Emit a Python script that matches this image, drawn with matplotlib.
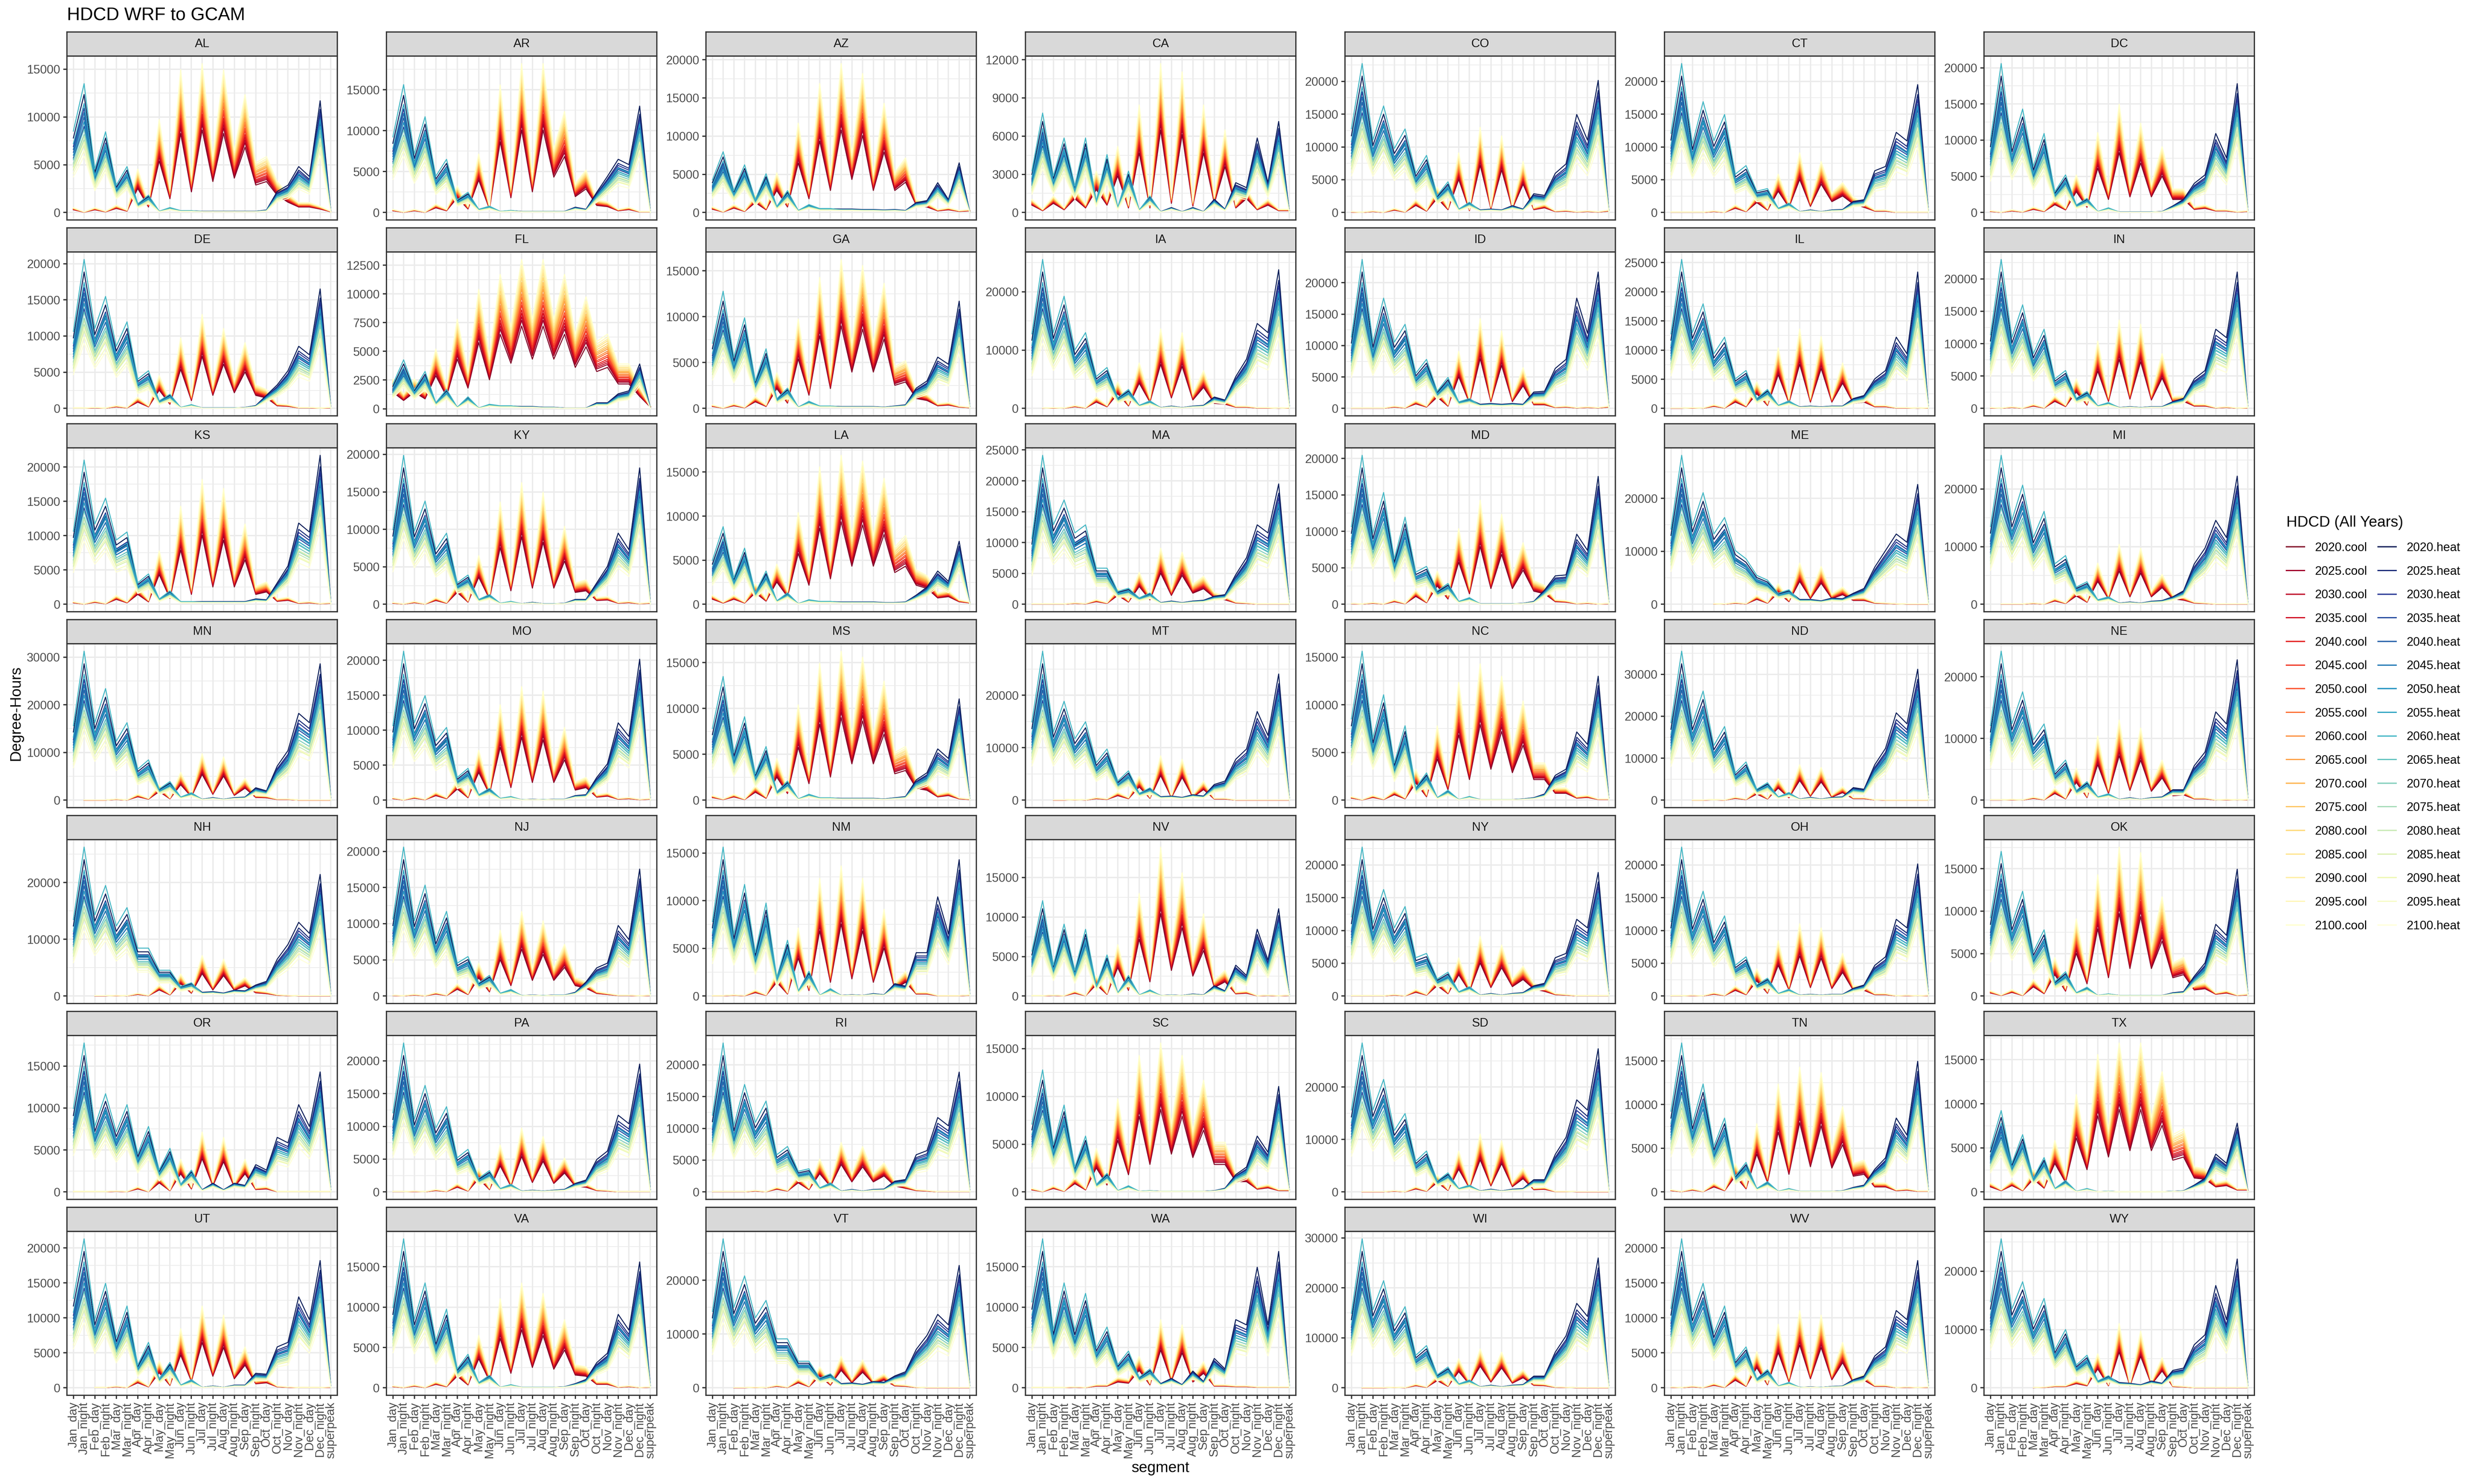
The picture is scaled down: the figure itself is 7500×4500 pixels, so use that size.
import numpy as np
import matplotlib
matplotlib.use("Agg")
import matplotlib.pyplot as plt
from matplotlib.colors import LinearSegmentedColormap
from matplotlib.lines import Line2D
from matplotlib.ticker import MultipleLocator, FormatStrFormatter

plt.rcParams['font.family'] = ['Liberation Sans', 'DejaVu Sans']

SEGMENTS = ["Jan_day", "Jan_night", "Feb_day", "Feb_night", "Mar_day", "Mar_night",
            "Apr_day", "Apr_night", "May_day", "May_night", "Jun_day", "Jun_night",
            "Jul_day", "Jul_night", "Aug_day", "Aug_night", "Sep_day", "Sep_night",
            "Oct_day", "Oct_night", "Nov_day", "Nov_night", "Dec_day", "Dec_night",
            "superpeak"]
YEARS = [2020, 2025, 2030, 2035, 2040, 2045, 2050, 2055, 2060,
         2065, 2070, 2075, 2080, 2085, 2090, 2095, 2100]

STATES = ["AL", "AR", "AZ", "CA", "CO", "CT", "DC",
          "DE", "FL", "GA", "IA", "ID", "IL", "IN",
          "KS", "KY", "LA", "MA", "MD", "ME", "MI",
          "MN", "MO", "MS", "MT", "NC", "ND", "NE",
          "NH", "NJ", "NM", "NV", "NY", "OH", "OK",
          "OR", "PA", "RI", "SC", "SD", "TN", "TX",
          "UT", "VA", "VT", "WA", "WI", "WV", "WY"]
# y tick spacing read from each facet
Y_STEP = [5000, 5000, 5000, 3000, 5000, 5000, 5000,
          5000, 2500, 5000, 10000, 5000, 5000, 5000,
          5000, 5000, 5000, 5000, 5000, 10000, 10000,
          10000, 5000, 5000, 10000, 5000, 10000, 10000,
          10000, 5000, 5000, 5000, 5000, 5000, 5000,
          5000, 5000, 5000, 5000, 10000, 5000, 5000,
          5000, 5000, 10000, 5000, 10000, 5000, 10000]

COOL_YEAR = [0.72, 0.77, 0.80, 0.83, 0.86, 0.90, 0.93, 0.97, 1.00,
             1.04, 1.07, 1.10, 1.14, 1.18, 1.21, 1.25, 1.30]
HEAT_JAN = [1.30, 1.10, 1.15, 0.95, 1.05, 1.10, 1.00, 1.20, 1.42,
            0.92, 0.86, 0.80, 0.84, 0.74, 0.78, 0.68, 0.62]
HEAT_EARLY = [1.20, 1.08, 1.12, 1.00, 1.05, 1.00, 1.06, 1.10, 1.30,
              0.94, 0.90, 0.84, 0.87, 0.77, 0.80, 0.70, 0.65]
HEAT_LATE = [1.30, 1.20, 1.15, 1.05, 1.10, 1.00, 1.08, 1.00, 0.95,
             0.96, 0.90, 0.84, 0.80, 0.86, 0.74, 0.76, 0.66]

COOL_PAL = ['#800026', '#bd0026', '#e31a1c', '#fc4e2a', '#fd8d3c',
            '#feb24c', '#fed976', '#ffeda0', '#ffffcc']
HEAT_PAL = ['#081d58', '#253494', '#225ea8', '#1d91c0', '#41b6c4',
            '#7fcdbb', '#c7e9b4', '#edf8b1', '#ffffd9']

# degree-hours (thousands), mid-century profile per state
AL_COOL = [0.4, 0.05, 0.4, 0.1, 0.6, 0.2, 3.5, 0.8, 7.5, 2, 11.5, 3, 12, 4.5, 11.5, 5, 9.5, 4, 4.5, 2.5, 1.5, 0.8, 0.8, 0.5, 0.1]
AL_HEAT = [6, 9.5, 3.5, 6.5, 2.2, 3.7, 0.7, 1.4, 0.1, 0.4, 0.15, 0.15, 0.1, 0.1, 0.1, 0.1, 0.1, 0.1, 0.2, 1.7, 2.2, 3.7, 2.9, 9, 0]
AR_COOL = [0.3, 0.05, 0.3, 0.05, 0.8, 0.3, 2.5, 0.6, 5.5, 0.6, 12, 2.5, 14, 3.5, 14, 6, 9.5, 2.7, 4, 1.2, 1, 0.3, 0.5, 0.1, 0.1]
AR_HEAT = [6.5, 11, 5.5, 9, 3.4, 5, 1.2, 1.9, 0.3, 0.6, 0.1, 0.2, 0.1, 0.1, 0.1, 0.1, 0.1, 0.5, 0.3, 1.9, 3.4, 5, 4.5, 10, 0]
AZ_COOL = [0.6, 0.1, 0.8, 0.2, 1.8, 0.5, 4, 1, 9, 2.5, 13, 4, 15, 6, 14, 4, 11, 4, 5.5, 1.3, 1, 0.3, 0.5, 0.2, 0.3]
AZ_HEAT = [3, 5.6, 2.2, 4.8, 1.3, 3.9, 0.6, 2.2, 0.2, 0.8, 0.4, 0.4, 0.35, 0.35, 0.3, 0.3, 0.25, 0.3, 0.2, 1, 1.2, 3, 1.3, 5, 0]
CA_COOL = [0.8, 0.2, 1.0, 0.3, 1.5, 0.5, 2.5, 0.8, 4, 0.5, 6.5, 0.5, 9, 1, 8.5, 0.7, 6.5, 1, 5, 0.5, 1.5, 0.3, 0.8, 0.2, 0.2]
CA_HEAT = [2.3, 5.5, 2.2, 4.5, 1.6, 4.5, 0.7, 3.5, 0.3, 2.5, 0.15, 1, 0.05, 0.3, 0.05, 0.3, 0.05, 0.8, 0.2, 1.8, 1.5, 4.5, 1.8, 5.5, 0]
CO_COOL = [0.1, 0.05, 0.2, 0.05, 0.5, 0.1, 1.5, 0.3, 3, 0.6, 7, 0.4, 10, 0.8, 9, 0.8, 6, 0.6, 1, 0.2, 0.3, 0.1, 0.2, 0.1, 0.3]
CO_HEAT = [9, 16, 8.5, 12.5, 7.5, 9.8, 4.6, 6.7, 2, 3.6, 0.4, 1.2, 0.3, 0.4, 0.3, 0.8, 0.4, 2.2, 2, 4.6, 5.7, 11.5, 8.5, 15.5, 0]
CT_COOL = [0.05, 0.05, 0.05, 0.05, 0.2, 0.05, 0.9, 0.2, 2.1, 0.5, 4.5, 1.1, 7, 1.3, 6, 2.3, 3.5, 1.8, 1.1, 0.3, 0.3, 0.05, 0.05, 0.05, 0.05]
CT_HEAT = [8.5, 16, 8, 13, 8.4, 11.5, 4.5, 5.5, 2.5, 2.8, 0.5, 1.1, 0.1, 0.3, 0.1, 0.3, 0.35, 1.3, 1.5, 4.9, 5.4, 9.4, 8.4, 15, 0]
DC_COOL = [0.2, 0.05, 0.3, 0.1, 0.6, 0.2, 1.5, 0.5, 4, 1, 8.5, 2.5, 11.5, 3, 9.5, 3, 7, 2.5, 2.5, 0.6, 0.8, 0.3, 0.3, 0.1, 0.2]
DC_HEAT = [7, 14.5, 7, 11, 4.9, 8.4, 2.2, 4, 0.8, 1.5, 0.1, 0.5, 0.05, 0.05, 0.05, 0.05, 0.1, 0.7, 1.4, 3.1, 4, 8.4, 5.8, 13.7, 0]
DE_COOL = [0.05, 0.05, 0.1, 0.05, 0.3, 0.1, 1.2, 0.3, 3.5, 0.8, 7.5, 1.5, 10, 2.5, 8.5, 3, 7, 2.5, 2, 0.5, 0.4, 0.1, 0.1, 0.05, 0.1]
DE_HEAT = [7.5, 14.5, 8.5, 11.9, 6.6, 9.2, 3.1, 4, 0.8, 1.5, 0.1, 0.4, 0.05, 0.05, 0.05, 0.05, 0.1, 0.3, 1.4, 2.5, 4, 6.6, 5.7, 12.7, 0]
FL_COOL = [2, 1, 2, 1.2, 4, 1.5, 6, 2.5, 8, 3.5, 9, 5.5, 10, 6, 10, 6, 9, 5, 7.5, 4.5, 5, 3, 3, 1.5, 0.2]
FL_HEAT = [1.5, 3, 1.3, 2.5, 0.4, 1.3, 0.1, 0.8, 0.05, 0.3, 0.2, 0.2, 0.15, 0.15, 0.1, 0.1, 0.05, 0.05, 0.05, 0.4, 0.4, 1, 1.2, 3, 0.05]
GA_COOL = [0.3, 0.05, 0.4, 0.1, 1, 0.3, 3, 0.8, 7.5, 2, 11, 3, 12.5, 5.5, 12, 5.5, 10.5, 3.5, 4, 1.5, 1.2, 0.4, 0.5, 0.2, 0.1]
GA_HEAT = [5, 9, 4.3, 7.6, 2.3, 5, 0.8, 1.7, 0.1, 0.6, 0.2, 0.2, 0.15, 0.15, 0.15, 0.15, 0.1, 0.2, 0.3, 1.7, 2.3, 4.3, 3.7, 9, 0]
IA_COOL = [None, 0.05, 0.1, 0.05, 0.4, 0.1, 1.5, 0.4, 3.5, 0.6, 6, 1.5, 10.5, 2.5, 10, 2, 5, 1.2, 1, 0.3, 0.3, 0.1, 0.1, 0.05, 0.1]
IA_HEAT = [9, 18, 10, 14.8, 7.7, 10, 4.2, 5.4, 1.4, 2.5, 0.4, 1, 0.1, 0.3, 0.1, 0.3, 0.4, 1.5, 1.1, 4.2, 6.5, 11.2, 10, 18.3, 0]
ID_COOL = [0.05, 0.05, 0.05, 0.05, 0.3, 0.1, 1, 0.3, 2.5, 0.5, 7, 1.2, 11, 1.5, 9.5, 1.5, 5, 0.8, 0.8, 0.2, 0.3, 0.1, 0.2, 0.1, 0.3]
ID_HEAT = [8, 16.7, 8.1, 13.5, 8.1, 10.3, 4.3, 6, 2.1, 3.8, 0.8, 1.2, 0.5, 0.6, 0.5, 0.6, 0.5, 2, 2.1, 4.9, 6, 13.5, 9.2, 16.7, 0]
IL_COOL = [0.05, 0.05, 0.1, 0.05, 0.5, 0.1, 1.5, 0.4, 3.5, 0.7, 8, 1.3, 10.5, 1.5, 9.5, 1.5, 6, 1.2, 1.5, 0.4, 0.4, 0.1, 0.1, 0.05, 0.1]
IL_HEAT = [9, 18, 10, 13.8, 7.2, 9.4, 3.9, 5, 1.3, 2.5, 0.4, 1, 0.2, 0.3, 0.2, 0.3, 0.3, 1.3, 1.7, 3.9, 5, 9.4, 7.2, 18, 0]
IN_COOL = [0.1, 0.05, 0.2, 0.05, 0.5, 0.1, 1.5, 0.4, 3.5, 0.7, 8, 1.5, 10.5, 2, 10, 1.8, 6.5, 1.4, 1.5, 0.5, 0.5, 0.1, 0.2, 0.05, 0.1]
IN_HEAT = [8, 16.2, 8.4, 12.3, 6.5, 9.4, 3.5, 4.5, 1.2, 2, 0.3, 0.7, 0.1, 0.2, 0.1, 0.2, 0.2, 0.8, 1.2, 3.5, 4.5, 9.4, 8.4, 16.2, 0]
KS_COOL = [0.3, 0.05, 0.4, 0.1, 1, 0.3, 2, 0.5, 6, 1.2, 11, 2, 14, 3.5, 13, 3.5, 9, 2, 2.5, 0.6, 0.8, 0.2, 0.3, 0.1, 0.2]
KS_HEAT = [7.5, 14.8, 9, 11.9, 7.2, 8.1, 2.4, 3.4, 0.6, 1.5, 0.3, 0.3, 0.3, 0.3, 0.3, 0.3, 0.3, 0.6, 0.5, 2.4, 4.3, 9.1, 8.1, 16.7, 0]
KY_COOL = [0.2, 0.05, 0.3, 0.05, 0.7, 0.2, 2.2, 0.4, 5, 1, 10.5, 2.5, 12.5, 3, 11.5, 3, 8, 2.2, 2.5, 0.7, 0.8, 0.2, 0.3, 0.1, 0.2]
KY_HEAT = [7, 14, 7.5, 10.6, 5.6, 7.3, 2.2, 3, 0.5, 1, 0.1, 0.3, 0.05, 0.2, 0.05, 0.05, 0.1, 0.5, 0.5, 2.2, 3.9, 7.3, 5.6, 14, 0]
LA_COOL = [0.8, 0.2, 0.8, 0.2, 1.8, 0.5, 3.5, 1.2, 8, 3, 12, 4, 13, 6, 12.5, 6, 11, 5, 6, 3, 2.5, 1, 1.2, 0.4, 0.2]
LA_HEAT = [3.5, 6.2, 2.3, 4.9, 1, 2.9, 0.3, 1, 0.05, 0.4, 0.25, 0.25, 0.2, 0.2, 0.2, 0.2, 0.15, 0.15, 0.2, 0.8, 1.5, 2.9, 2, 5.5, 0]
MA_COOL = [0.05, 0.05, 0.05, 0.05, 0.2, 0.1, 0.6, 0.2, 2, 0.5, 4, 1, 7, 2, 6.5, 2.5, 3.5, 1.5, 1, 0.3, 0.2, 0.05, 0.05, 0.05, 0.05]
MA_HEAT = [7.5, 17, 9.9, 13, 8.9, 9.9, 4.5, 4.5, 1.6, 2, 0.8, 1.4, 0.2, 0.4, 0.2, 0.4, 0.5, 1, 1.2, 3.7, 5.8, 9.9, 8.9, 15, 0]
MD_COOL = [0.1, 0.05, 0.2, 0.05, 0.5, 0.1, 1.5, 0.3, 3.5, 1, 8, 2, 11, 3, 9.5, 3, 6.5, 2.5, 2, 0.5, 0.4, 0.1, 0.2, 0.05, 0.1]
MD_HEAT = [7.5, 14.4, 7.5, 11.8, 4.8, 9.2, 3.4, 4, 1.4, 2.2, 0.3, 0.7, 0.05, 0.05, 0.05, 0.05, 0.1, 0.3, 1.5, 3, 3.1, 7.4, 5.7, 13.5, 0]
ME_COOL = [None, None, None, None, 0.1, 0.05, 0.3, 0.1, 1.3, 0.3, 3, 0.7, 6, 1.5, 5.5, 1.5, 2.5, 1, 1, 0.3, 0.2, 0.1, 0.05, 0.05, 0.05]
ME_HEAT = [10, 19.8, 11.4, 16.2, 10.2, 12.6, 7.8, 6.6, 4.2, 3.5, 1.6, 2.1, 0.7, 0.7, 0.5, 0.9, 0.8, 1.6, 2.3, 5.4, 7.8, 10.2, 9, 17.4, 0]
MI_COOL = [None, 0.05, 0.05, 0.05, 0.2, 0.05, 0.8, 0.2, 2, 0.5, 5.5, 1.3, 8, 1.8, 7.5, 1.8, 4, 1.3, 1, 0.3, 0.2, 0.05, 0.05, 0.05, 0.05]
MI_HEAT = [9.5, 18.2, 11.2, 15.9, 8.9, 12.4, 5.4, 6.5, 2.3, 3, 0.6, 1, 0.15, 0.3, 0.15, 0.4, 0.5, 1, 1.8, 5.4, 7.5, 11.2, 8.9, 17.1, 0]
MN_COOL = [None, 0.05, 0.05, 0.05, 0.2, 0.05, 1, 0.3, 2.5, 0.4, 4.5, 1, 7.5, 1.7, 7, 1.4, 3.5, 0.8, 0.7, 0.2, 0.2, 0.05, 0.05, 0.05, 0.05]
MN_HEAT = [11, 22, 12.5, 18, 9.5, 12.5, 5, 6.5, 1.8, 3, 0.5, 1.2, 0.15, 0.4, 0.15, 0.4, 0.5, 2, 1.5, 5.5, 8, 14, 12.5, 22, 0]
MO_COOL = [0.3, 0.05, 0.4, 0.1, 0.9, 0.3, 2.2, 0.5, 5.5, 1.2, 10.5, 2.5, 12.5, 3.5, 12, 3.5, 8, 2, 2.5, 0.6, 0.8, 0.2, 0.3, 0.1, 0.2]
MO_HEAT = [7.5, 15, 8.5, 11.5, 6.5, 8, 2.5, 3.5, 0.6, 1.3, 0.2, 0.4, 0.05, 0.1, 0.05, 0.1, 0.1, 0.5, 0.6, 2.5, 4, 8.5, 7, 15.5, 0]
MS_COOL = [0.4, 0.1, 0.5, 0.1, 1.2, 0.3, 3.5, 1, 8, 2.5, 11.5, 3.5, 12.5, 5.5, 12, 5.5, 10, 4, 4.5, 1.8, 1.5, 0.5, 0.7, 0.2, 0.1]
MS_HEAT = [5.5, 9.5, 4, 7, 2.2, 4.5, 0.7, 1.6, 0.1, 0.5, 0.2, 0.2, 0.15, 0.15, 0.15, 0.15, 0.1, 0.2, 0.3, 1.7, 2.3, 4.3, 3.5, 8.5, 0]
MT_COOL = [None, None, 0.05, 0.05, 0.1, 0.05, 0.4, 0.2, 1.2, 0.4, 3.5, 0.5, 6.5, 0.7, 6, 0.8, 2.8, 0.3, 0.3, 0.05, 0.05, 0.05, 0.05, 0.05, 0.05]
MT_HEAT = [10.5, 20, 10, 14.5, 9, 11.5, 5.5, 7.5, 2.8, 4.3, 1, 1.8, 0.5, 0.6, 0.4, 0.8, 0.6, 2.3, 2.8, 6, 7.5, 13, 9.5, 18.5, 0]
NC_COOL = [0.3, 0.05, 0.4, 0.1, 0.8, 0.2, 2.5, 0.5, 6, 1.5, 9.5, 3, 11, 4.5, 10, 4, 8, 3, 3, 1, 1, 0.3, 0.4, 0.1, 0.1]
NC_HEAT = [6, 11, 5, 8.5, 3, 6, 1, 2.2, 0.2, 0.8, 0.05, 0.3, 0.05, 0.05, 0.05, 0.05, 0.1, 0.2, 0.5, 2, 2.5, 5.5, 4.5, 10, 0]
ND_COOL = [None, None, 0.05, 0.05, 0.1, 0.05, 0.6, 0.2, 2, 0.4, 4, 0.8, 6.5, 1.3, 6, 1, 2.5, 0.5, 0.5, 0.1, 0.05, 0.05, 0.05, 0.05, 0.05]
ND_HEAT = [13, 25, 14, 20, 10, 13.5, 5, 7, 2, 3.2, 0.6, 1.4, 0.2, 0.5, 0.2, 0.5, 0.6, 2.3, 2, 6.5, 9.5, 16, 14, 24, 0]
NE_COOL = [0.05, 0.05, 0.1, 0.05, 0.4, 0.1, 1.5, 0.3, 4, 0.6, 8, 1.5, 10, 2.2, 9, 2, 5, 1, 1.2, 0.3, 0.3, 0.05, 0.1, 0.05, 0.1]
NE_HEAT = [8.5, 17, 9.5, 13.5, 7.5, 9.5, 3.5, 5, 1.2, 2.3, 0.4, 0.8, 0.1, 0.3, 0.1, 0.3, 0.4, 1.3, 1.3, 4.3, 6, 11, 9.5, 17.5, 0]
NH_COOL = [None, None, 0.05, 0.05, 0.1, 0.05, 0.4, 0.1, 1.5, 0.3, 3, 0.7, 5.5, 1.5, 5, 1.4, 2.5, 0.8, 0.6, 0.2, 0.1, 0.05, 0.05, 0.05, 0.05]
NH_HEAT = [9.5, 18.5, 11, 15, 9.5, 12, 6.5, 6.5, 3.5, 3.5, 1.3, 1.8, 0.5, 0.6, 0.4, 0.8, 0.7, 1.5, 2, 5, 7, 10, 8.5, 16.5, 0]
NJ_COOL = [0.1, 0.05, 0.2, 0.05, 0.4, 0.1, 1.3, 0.3, 3.5, 0.8, 7, 2, 9, 3, 8, 3, 5.5, 2, 1.5, 0.5, 0.3, 0.1, 0.1, 0.05, 0.1]
NJ_HEAT = [7.5, 14.5, 8, 11.8, 6, 9, 3.5, 4.2, 1.4, 2.2, 0.3, 0.7, 0.05, 0.1, 0.05, 0.1, 0.1, 0.4, 1.5, 3, 3.5, 7.5, 6, 13.5, 0]
NM_COOL = [0.05, 0.05, 0.1, 0.05, 0.5, 0.1, 2, 0.3, 5.5, 0.8, 9.5, 2, 10.5, 2.5, 9.5, 2, 7, 1, 2, 0.3, 0.3, 0.05, 0.05, 0.05, 0.1]
NM_HEAT = [5.5, 11, 5, 9, 3.5, 7.5, 1.5, 4.5, 0.4, 2, 0.05, 0.6, 0.05, 0.1, 0.05, 0.2, 0.1, 1, 0.8, 3.5, 3.5, 8, 5, 11, 0]
NV_COOL = [0.05, 0.05, 0.1, 0.05, 0.5, 0.05, 2, 0.3, 5, 1, 10, 2.5, 14.5, 4.5, 12, 3.5, 8, 1.5, 2.5, 0.4, 0.5, 0.05, 0.1, 0.05, 0.1]
NV_HEAT = [4, 8.5, 3, 7, 2.5, 6.5, 1, 4, 0.3, 2, 0.1, 0.6, 0.05, 0.1, 0.05, 0.2, 0.1, 1, 0.5, 3, 2, 6.5, 3.5, 8.5, 0]
NY_COOL = [0.05, 0.05, 0.05, 0.05, 0.2, 0.05, 0.8, 0.2, 2.2, 0.5, 4.5, 1, 7, 1.8, 6, 2, 3.5, 1.5, 1, 0.3, 0.2, 0.05, 0.05, 0.05, 0.05]
NY_HEAT = [8.5, 16, 8.5, 12.5, 8, 10.5, 4.5, 5, 2, 2.8, 0.5, 1.1, 0.1, 0.3, 0.1, 0.3, 0.4, 1.2, 1.5, 4.5, 5, 9, 8, 14.5, 0]
OH_COOL = [0.05, 0.05, 0.1, 0.05, 0.4, 0.1, 1.2, 0.3, 3.2, 0.6, 6.5, 1.3, 8.5, 1.8, 8, 1.6, 5, 1.2, 1.2, 0.3, 0.3, 0.05, 0.1, 0.05, 0.1]
OH_HEAT = [8, 16, 8.5, 12.3, 6.8, 9.4, 3.6, 4.6, 1.3, 2.1, 0.3, 0.8, 0.1, 0.2, 0.1, 0.2, 0.2, 0.9, 1.3, 3.6, 4.6, 9, 8, 15.5, 0]
OK_COOL = [0.5, 0.1, 0.6, 0.1, 1.5, 0.4, 3.5, 0.8, 7, 2, 11, 3, 13.5, 4.5, 13, 4.5, 9, 3, 3.5, 1, 1.2, 0.3, 0.5, 0.1, 0.2]
OK_HEAT = [6.5, 12, 6.5, 9.5, 4, 6, 1.3, 2.2, 0.3, 0.8, 0.05, 0.2, 0.05, 0.05, 0.05, 0.05, 0.05, 0.3, 0.4, 1.8, 3, 6.5, 5.5, 11.5, 0]
OR_COOL = [0.05, 0.05, 0.05, 0.05, 0.1, 0.05, 0.5, 0.05, 1.5, 0.2, 3, 0.5, 5.5, 1, 5, 0.8, 3, 0.4, 0.5, 0.05, 0.05, 0.05, 0.05, 0.05, 0.05]
OR_HEAT = [7, 12.5, 6, 9, 5.5, 8, 3.5, 6, 2, 4, 0.7, 2, 0.2, 0.8, 0.2, 0.8, 0.6, 2.5, 2, 5, 4.5, 8, 6, 11, 0]
PA_COOL = [0.05, 0.05, 0.1, 0.05, 0.3, 0.1, 1, 0.2, 2.8, 0.5, 5.5, 1.2, 7.5, 2, 6.5, 1.8, 4, 1.2, 1, 0.3, 0.2, 0.05, 0.05, 0.05, 0.05]
PA_HEAT = [8.5, 16, 8.5, 12.5, 7.5, 10, 4, 5, 1.6, 2.5, 0.4, 0.9, 0.1, 0.2, 0.1, 0.2, 0.3, 1, 1.4, 3.8, 4.8, 9, 8, 15, 0]
RI_COOL = [0.05, 0.05, 0.05, 0.05, 0.2, 0.05, 0.6, 0.2, 2, 0.5, 4, 1.2, 6, 2.2, 5.5, 2.2, 3.5, 1.3, 0.8, 0.3, 0.2, 0.05, 0.05, 0.05, 0.05]
RI_HEAT = [8.5, 16.5, 8, 13, 8.4, 11, 4.5, 5.5, 2.5, 2.8, 0.5, 1.1, 0.1, 0.3, 0.1, 0.3, 0.35, 1.3, 1.5, 4.5, 5, 9, 8, 14.5, 0]
SC_COOL = [0.3, 0.05, 0.5, 0.1, 1.2, 0.3, 3.5, 1, 7.5, 2.5, 11, 4, 12, 5.5, 11, 5, 9, 4, 4, 1.5, 1.5, 0.4, 0.6, 0.2, 0.2]
SC_HEAT = [5, 9, 3.8, 7, 2, 4.5, 0.6, 1.5, 0.1, 0.5, 0.05, 0.1, 0.05, 0.05, 0.05, 0.05, 0.05, 0.1, 0.3, 1.4, 2, 4.5, 3.2, 8.5, 0]
SD_COOL = [None, 0.05, 0.05, 0.05, 0.2, 0.05, 0.8, 0.2, 2.5, 0.4, 6, 1, 8.5, 1.6, 7.5, 1.4, 3.5, 0.6, 0.7, 0.1, 0.1, 0.05, 0.05, 0.05, 0.05]
SD_HEAT = [11, 20, 12, 16.5, 9, 11.5, 4.5, 6, 1.6, 2.8, 0.5, 1, 0.15, 0.4, 0.15, 0.4, 0.5, 1.8, 1.8, 5.5, 8, 13.5, 12, 21, 0]
TN_COOL = [0.2, 0.05, 0.3, 0.05, 0.8, 0.2, 2.5, 0.5, 6, 1.5, 9.5, 2.8, 11, 4, 10.5, 3.8, 7.5, 2.5, 2.8, 0.8, 0.8, 0.2, 0.3, 0.1, 0.1]
TN_HEAT = [6.5, 12, 6, 9.5, 4, 6.5, 1.4, 2.6, 0.3, 0.9, 0.05, 0.3, 0.05, 0.05, 0.05, 0.05, 0.1, 0.4, 0.6, 2, 3, 6.5, 5, 11.5, 0]
TX_COOL = [0.8, 0.2, 1, 0.2, 2, 0.6, 4.5, 1.5, 8.5, 3.5, 12, 5.5, 13, 6.5, 13, 6.5, 10.5, 5, 5.5, 2.2, 2, 0.8, 1, 0.3, 0.3]
TX_HEAT = [3.5, 6.5, 2.5, 5, 1.2, 3, 0.3, 1, 0.05, 0.3, 0.02, 0.05, 0.02, 0.02, 0.02, 0.02, 0.02, 0.05, 0.1, 0.6, 1.2, 3.3, 2.5, 6, 0]
UT_COOL = [None, None, 0.05, 0.05, 0.2, 0.05, 1, 0.2, 3, 0.5, 6.5, 1.3, 9, 2.3, 8, 1.8, 4.5, 0.8, 1, 0.2, 0.1, 0.05, 0.05, 0.05, 0.1]
UT_HEAT = [9, 15, 7.5, 11.5, 5.5, 9, 2.5, 5, 1, 2.8, 0.3, 0.9, 0.05, 0.2, 0.05, 0.3, 0.3, 1.6, 1.5, 4.5, 5, 10, 7.5, 14, 0]
VA_COOL = [0.2, 0.05, 0.3, 0.05, 0.6, 0.2, 2, 0.5, 5, 1.2, 8.5, 2.5, 10, 3.5, 9, 3.2, 6.5, 2.2, 2, 0.6, 0.6, 0.1, 0.2, 0.05, 0.1]
VA_HEAT = [7, 13, 6.5, 10, 4.5, 7.5, 1.8, 3.2, 0.5, 1.2, 0.05, 0.3, 0.05, 0.05, 0.05, 0.05, 0.1, 0.4, 0.8, 2.4, 3.3, 7, 5.5, 12, 0]
VT_COOL = [None, None, 0.05, 0.05, 0.1, 0.05, 0.4, 0.1, 1.3, 0.3, 3, 0.7, 4.5, 1.3, 4, 1.1, 2, 0.5, 0.4, 0.1, 0.05, 0.05, 0.05, 0.05, 0.05]
VT_HEAT = [10, 19.5, 11.5, 16, 10, 12.5, 7, 7, 3.8, 3.8, 1.4, 2, 0.6, 0.7, 0.5, 0.9, 0.8, 1.7, 2.3, 5.5, 7.5, 10.5, 9, 17.5, 0]
WA_COOL = [0.05, 0.05, 0.05, 0.05, 0.1, 0.05, 0.3, 0.3, 1, 0.8, 3, 0.5, 6.5, 1.2, 6, 1, 2.5, 0.3, 0.3, 0.2, 0.2, 0.1, 0.1, 0.1, 0.1]
WA_HEAT = [7.5, 13, 5.5, 10, 5.5, 9, 3.8, 5.8, 2.2, 3.5, 1, 1.8, 0.4, 0.9, 0.3, 1.6, 0.6, 2.8, 1.8, 6.5, 6, 11.5, 6, 13, 0]
WI_COOL = [None, 0.05, 0.05, 0.05, 0.1, 0.05, 0.6, 0.15, 2, 0.4, 4.5, 1, 6, 1.6, 5.5, 1.3, 2.8, 0.7, 0.6, 0.15, 0.1, 0.05, 0.05, 0.05, 0.05]
WI_HEAT = [10.5, 21, 12, 16.5, 9.5, 12.5, 5, 6.5, 2, 3.2, 0.6, 1.2, 0.15, 0.4, 0.15, 0.4, 0.5, 1.8, 1.8, 5.5, 8, 13, 11, 20, 0]
WV_COOL = [0.1, 0.05, 0.2, 0.05, 0.5, 0.1, 1.5, 0.3, 4, 0.6, 7, 1.2, 8.5, 1.8, 8, 1.6, 5, 1, 1.5, 0.3, 0.3, 0.05, 0.1, 0.05, 0.1]
WV_HEAT = [8, 15, 8, 11.5, 6, 9, 3, 4.5, 1, 2, 0.2, 0.6, 0.05, 0.1, 0.05, 0.15, 0.2, 0.9, 1.3, 3.5, 4.5, 8.5, 7.5, 14, 0]
WY_COOL = [None, None, None, None, 0.05, 0.1, 0.3, 0.3, 1, 0.5, 4.5, 0.5, 8.5, 0.5, 7.5, 0.8, 4, 0.3, 0.2, 0.05, 0.05, 0.05, 0.05, 0.05, 0.05]
WY_HEAT = [10.4, 18, 10.4, 14, 8.4, 11.8, 5, 7.7, 3, 4.3, 0.9, 1.6, 0.7, 0.6, 0.4, 0.9, 0.6, 2.3, 2.6, 5.7, 7, 13.5, 9, 17, 0]

COOL = {st: globals()[st + "_COOL"] for st in STATES}
HEAT = {st: globals()[st + "_HEAT"] for st in STATES}

cool_cols = LinearSegmentedColormap.from_list("cool", COOL_PAL)(np.linspace(0, 1, len(YEARS)))
heat_cols = LinearSegmentedColormap.from_list("heat", HEAT_PAL)(np.linspace(0, 1, len(YEARS)))

x = np.arange(len(SEGMENTS))
month = np.minimum(x // 2, 12)

W, H = 7500, 4500
fig = plt.figure(figsize=(25, 15), dpi=300)

GRID = '#EBEBEB'
DARK = '#333333'
TXT = '#4D4D4D'

for k, st in enumerate(STATES):
    r, c = divmod(k, 7)
    left = (203 + c * 969) / W
    width = 820 / W
    ax = fig.add_axes([left, 1 - (667 + 594 * r) / H, width, 497 / H])
    sx = fig.add_axes([left, 1 - (170 + 594 * r) / H, width, 73 / H])

    cool = np.array(COOL[st], dtype=float) * 1000
    heat = np.array(HEAT[st], dtype=float) * 1000
    for i, yr in enumerate(YEARS):
        ax.plot(x, cool * COOL_YEAR[i], color=cool_cols[i], lw=0.7, zorder=2)
    for i, yr in enumerate(YEARS):
        f = np.where(month == 0, HEAT_JAN[i], np.where(month < 6, HEAT_EARLY[i], HEAT_LATE[i]))
        ax.plot(x, heat * f, color=heat_cols[i], lw=0.7, zorder=3)

    ax.set_xlim(-0.6, len(SEGMENTS) - 0.4)
    ax.margins(y=0.05)
    step = Y_STEP[k]
    ax.yaxis.set_major_locator(MultipleLocator(step))
    ax.yaxis.set_minor_locator(MultipleLocator(step / 2))
    ax.yaxis.set_major_formatter(FormatStrFormatter('%d'))
    ax.set_xticks(x)
    ax.grid(True, which='major', color=GRID, lw=1.0, zorder=0)
    ax.grid(True, which='minor', axis='y', color=GRID, lw=0.5, zorder=0)
    ax.set_axisbelow(True)
    for sp in ax.spines.values():
        sp.set_color(DARK)
        sp.set_linewidth(0.9)
    ax.tick_params(axis='y', which='major', length=2.75, width=0.9, color=DARK,
                   labelsize=8.8, labelcolor=TXT, pad=2.2)
    ax.tick_params(which='minor', length=0)
    if r == 6:
        ax.set_xticklabels(SEGMENTS, rotation=90, ha='center', va='top')
        ax.tick_params(axis='x', length=2.75, width=0.9, color=DARK,
                       labelsize=8.8, labelcolor=TXT, pad=2.2)
    else:
        ax.tick_params(axis='x', length=0, labelbottom=False)

    sx.set_facecolor('#D9D9D9')
    sx.set_xticks([])
    sx.set_yticks([])
    for sp in sx.spines.values():
        sp.set_color(DARK)
        sp.set_linewidth(0.9)
    sx.text(0.5, 0.5, st, ha='center', va='center', fontsize=8.8, color='#1A1A1A',
            transform=sx.transAxes)

fig.text(203 / W, 1 - 62 / H, "HDCD WRF to GCAM", fontsize=13.2, ha='left', va='baseline')
fig.text(48 / W, 1 - 2163 / H, "Degree-Hours", fontsize=11, rotation=90, ha='center', va='center')
fig.text(3520 / W, 1 - 4452 / H, "segment", fontsize=11, ha='center', va='center')

handles = [Line2D([], [], color=cool_cols[i], lw=0.9) for i in range(len(YEARS))] + \
          [Line2D([], [], color=heat_cols[i], lw=0.9) for i in range(len(YEARS))]
labels = [f"{y}.cool" for y in YEARS] + [f"{y}.heat" for y in YEARS]
fig.legend(handles, labels, ncol=2, loc='upper left', bbox_to_anchor=(6916 / W, 1 - 1545 / H),
           frameon=False, title="HDCD (All Years)", title_fontsize=11, fontsize=8.8,
           handlelength=1.5, handletextpad=0.85, columnspacing=0.9, labelspacing=1.0,
           borderpad=0, alignment='left')

fig.savefig("out.png", dpi=300)
